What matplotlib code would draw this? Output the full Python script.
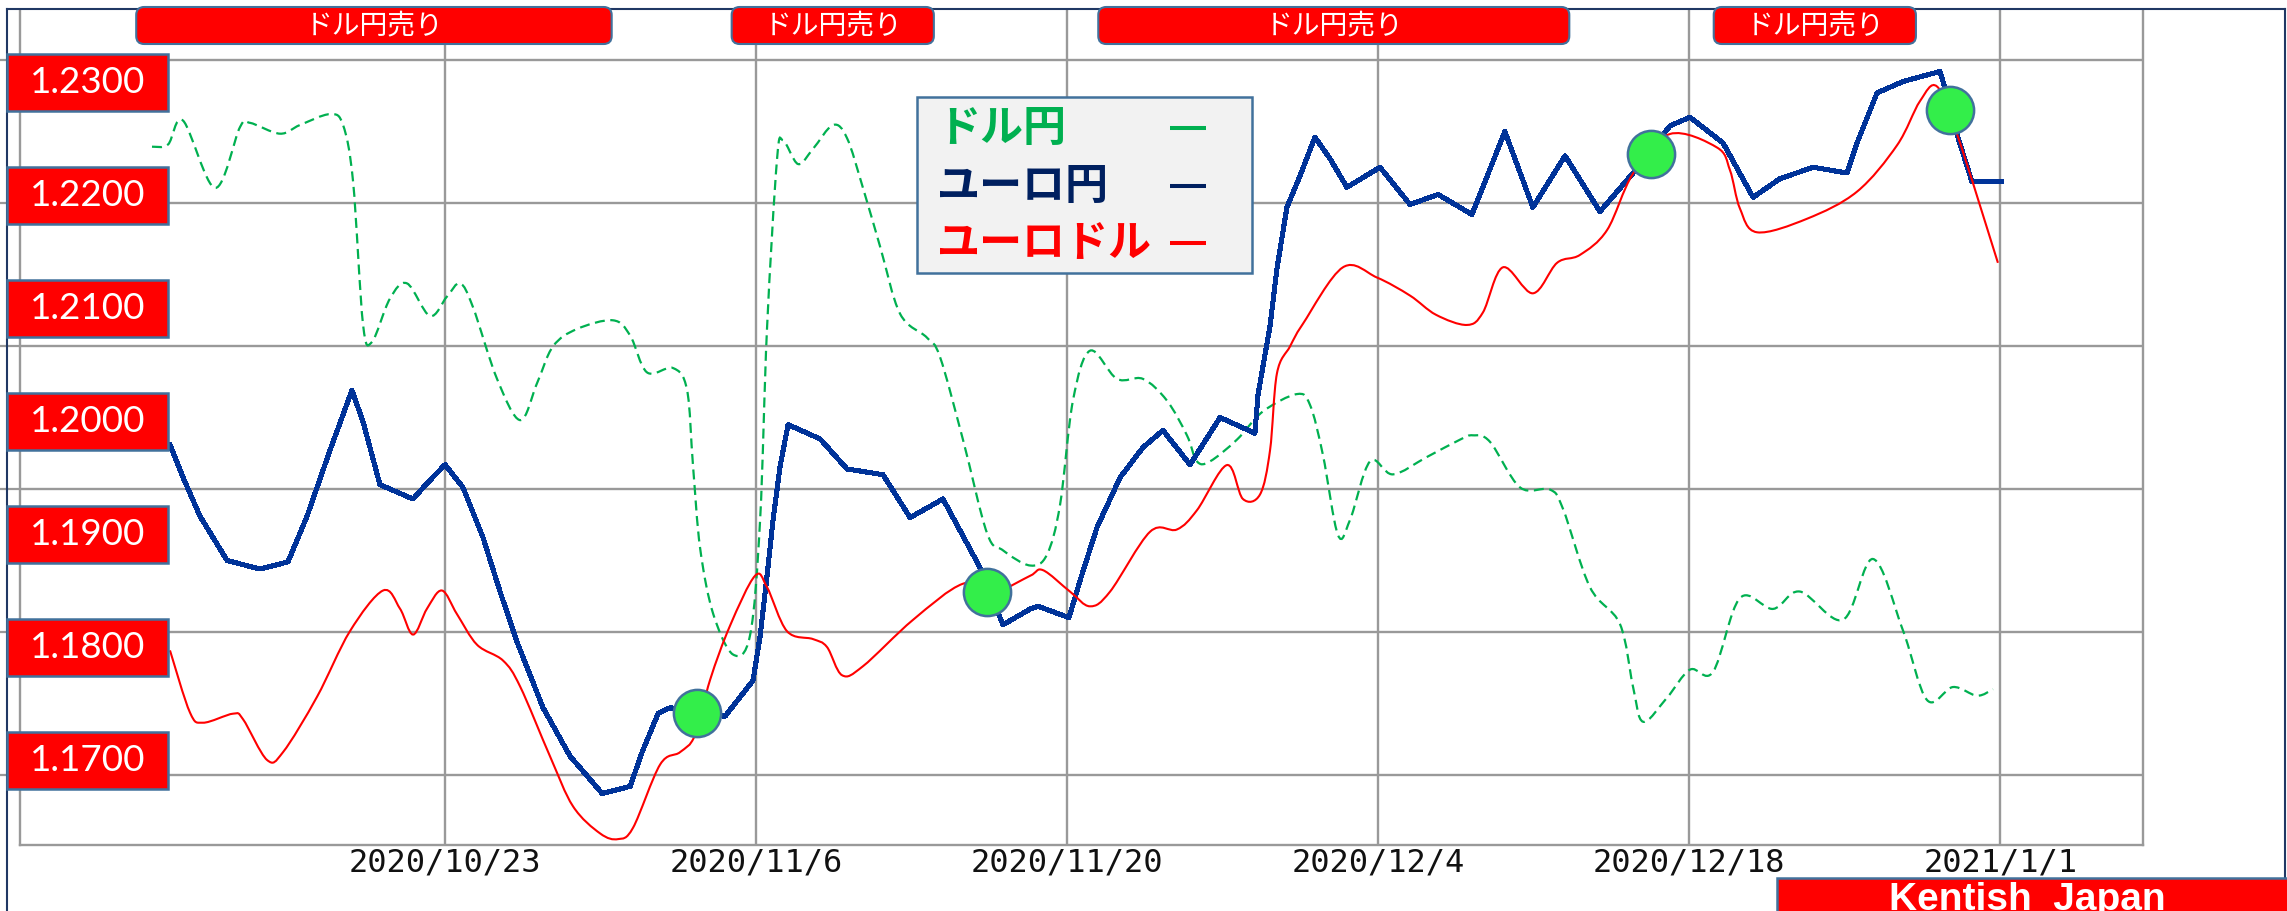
import matplotlib
matplotlib.use("Agg")
import matplotlib.pyplot as plt
import matplotlib.transforms as mtransforms
from matplotlib.patches import Rectangle, FancyBboxPatch, PathPatch
from matplotlib.lines import Line2D
from matplotlib.path import Path

W, H = 2287, 911

# x values are days counted from 2020/10/23
eurjpy_days = [-12.38, -11.79, -11.03, -9.81, -8.33, -7.07, -6.21, -5.18, -4.19, -3.69,
               -2.93, -1.44, -0.81, 0.0, 0.81, 1.71, 2.48, 3.24, 4.41, 5.63,
               6.08, 7.07, 8.33, 8.87, 9.59, 10.13, 12.60, 13.86, 14.18, 14.49,
               14.76, 15.08, 15.44, 16.88, 18.09, 19.71, 20.93, 22.41, 24.08, 25.11,
               26.33, 26.69, 28.08, 28.58, 29.34, 30.38, 31.41, 32.31, 33.53, 34.88,
               36.45, 36.59, 37.13, 37.44, 37.89, 38.48, 39.15, 39.83, 40.59, 42.08,
               43.43, 44.69, 46.22, 47.70, 48.96, 50.41, 51.98, 53.47, 55.13, 56.03,
               57.52, 58.87, 60.08, 61.57, 63.10, 63.55, 64.45, 65.62, 67.28, 67.42,
               68.09, 68.72, 70.07]
eurjpy = [124.31, 124.08, 123.81, 123.50, 123.44, 123.49, 123.81, 124.27, 124.69, 124.47,
          124.03, 123.93, 124.04, 124.17, 124.01, 123.66, 123.28, 122.93, 122.47, 122.13,
          122.05, 121.87, 121.92, 122.16, 122.43, 122.47, 122.41, 122.66, 122.97, 123.39,
          123.78, 124.16, 124.45, 124.35, 124.14, 124.10, 123.80, 123.93, 123.45, 123.05,
          123.16, 123.18, 123.10, 123.36, 123.73, 124.08, 124.29, 124.41, 124.17, 124.50,
          124.39, 124.66, 125.14, 125.54, 125.97, 126.19, 126.46, 126.31, 126.11, 126.25,
          125.99, 126.06, 125.92, 126.50, 125.97, 126.33, 125.94, 126.21, 126.54, 126.60,
          126.42, 126.04, 126.17, 126.25, 126.21, 126.42, 126.77, 126.85, 126.92, 126.85,
          126.46, 126.15, 126.15]

eurusd_days = [-12.38, -11.48, -10.89, -9.54, -9.09, -8.01, -7.29, -5.76, -4.28, -2.79,
               -2.03, -1.44, -0.81, -0.14, 0.54, 1.44, 2.61, 3.38, 4.73, 5.76,
               6.98, 7.79, 8.46, 9.68, 10.58, 11.25, 11.93, 12.83, 13.95, 14.49,
               15.39, 16.56, 17.19, 17.87, 18.81, 21.06, 23.31, 24.84, 26.33, 26.91,
               28.13, 29.03, 29.93, 31.73, 32.94, 33.84, 35.19, 35.91, 36.68, 37.13,
               37.44, 38.03, 38.61, 40.41, 41.94, 43.43, 44.60, 45.99, 46.71, 47.61,
               48.96, 50.05, 51.08, 52.30, 53.47, 55.13, 57.25, 57.83, 58.28, 59.05,
               61.30, 63.55, 65.35, 66.38, 67.15, 68.05, 69.89]
eurusd = [1.1797, 1.1742, 1.1733, 1.1741, 1.1736, 1.1700, 1.1707, 1.1756, 1.1814, 1.1850,
          1.1834, 1.1811, 1.1834, 1.1850, 1.1829, 1.1802, 1.1788, 1.1765, 1.1703, 1.1659,
          1.1635, 1.1630, 1.1640, 1.1696, 1.1707, 1.1722, 1.1771, 1.1819, 1.1863, 1.1853,
          1.1814, 1.1807, 1.1800, 1.1775, 1.1783, 1.1824, 1.1856, 1.1850, 1.1863, 1.1868,
          1.1849, 1.1836, 1.1849, 1.1902, 1.1904, 1.1921, 1.1961, 1.1931, 1.1935, 1.1974,
          1.2042, 1.2066, 1.2086, 1.2136, 1.2127, 1.2111, 1.2094, 1.2085, 1.2096, 1.2136,
          1.2113, 1.2140, 1.2147, 1.2169, 1.2219, 1.2254, 1.2242, 1.2222, 1.2188, 1.2167,
          1.2179, 1.2203, 1.2244, 1.2283, 1.2296, 1.2254, 1.2140]

usdjpy_days = [-13.19, -12.47, -11.79, -10.35, -9.23, -8.78, -7.43, -6.53, -5.18, -4.59,
               -4.14, -3.69, -3.29, -2.48, -1.71, -0.68, 0.09, 0.68, 1.26, 2.34,
               3.38, 4.14, 4.86, 5.94, 7.56, 8.33, 9.09, 10.26, 10.89, 11.16,
               11.48, 12.06, 12.96, 13.73, 14.18, 14.49, 14.94, 15.21, 15.89, 16.56,
               17.46, 18.09, 18.81, 19.58, 20.48, 21.69, 22.28, 23.31, 24.39, 25.11,
               26.33, 27.09, 27.68, 28.26, 29.03, 30.24, 31.41, 32.49, 33.39, 33.84,
               34.43, 35.64, 36.81, 38.34, 38.93, 39.51, 40.19, 40.73, 41.63, 42.66,
               44.19, 45.68, 46.26, 47.03, 48.38, 49.73, 50.32, 51.53, 52.88, 53.47,
               53.92, 54.99, 56.03, 57.07, 58.28, 59.77, 60.98, 62.92, 64.27, 65.62,
               66.70, 67.87, 68.95, 69.67]
usdjpy = [105.54, 105.55, 105.66, 105.35, 105.63, 105.65, 105.60, 105.64, 105.69, 105.64,
          105.38, 104.72, 104.64, 104.84, 104.91, 104.76, 104.85, 104.91, 104.80, 104.47,
          104.28, 104.45, 104.62, 104.70, 104.74, 104.67, 104.50, 104.52, 104.42, 104.07,
          103.69, 103.39, 103.20, 103.29, 103.82, 104.70, 105.48, 105.57, 105.46, 105.53,
          105.64, 105.58, 105.35, 105.08, 104.77, 104.66, 104.57, 104.19, 103.76, 103.68,
          103.61, 103.66, 103.89, 104.37, 104.60, 104.47, 104.47, 104.37, 104.21, 104.09,
          104.09, 104.19, 104.32, 104.40, 104.35, 104.12, 103.75, 103.82, 104.09, 104.03,
          104.11, 104.19, 104.21, 104.18, 103.97, 103.96, 103.87, 103.51, 103.34, 103.05,
          102.89, 103.00, 103.13, 103.12, 103.46, 103.41, 103.49, 103.36, 103.64, 103.31,
          102.99, 103.05, 103.01, 103.04]

# signal points (on the euro/dollar scale)
signal_days = [11.34, 24.39, 54.28, 67.73]
signal_eurusd = [1.1742, 1.1849, 1.2236, 1.2275]

# "dollar-yen selling" periods, in days
sell_start = [-13.9, 12.9, 29.4, 57.1]
sell_end = [7.5, 22.0, 50.6, 66.2]
sell_label = "ドル円売り"

date_ticks = [0, 14, 28, 42, 56, 70]
date_labels = ["2020/10/23", "2020/11/6", "2020/11/20", "2020/12/4", "2020/12/18", "2021/1/1"]
yen_ticks = [122, 123, 124, 125, 126, 127]
eurusd_ticks = [1.17, 1.18, 1.19, 1.20, 1.21, 1.22, 1.23]
eurusd_labels = ["1.1700", "1.1800", "1.1900", "1.2000", "1.2100", "1.2200", "1.2300"]

legend_names = ["ドル円", "ユーロ円", "ユーロドル"]

GREEN = "#00B050"
NAVY = "#002060"
BLUE = "#003399"
RED = "#FF0000"
EDGE = "#41719C"
GRID = "#999999"
BORDER = "#203864"
JP = ["Noto Sans CJK JP", "DejaVu Sans"]


def smooth_path(xs, ys):
    # smoothed line through the points, like a spreadsheet "smoothed line"
    n = len(xs)
    verts = [(xs[0], ys[0])]
    codes = [Path.MOVETO]
    for i in range(n - 1):
        a = max(i - 1, 0)
        b = min(i + 2, n - 1)
        c1 = (xs[i] + (xs[i + 1] - xs[a]) / 6, ys[i] + (ys[i + 1] - ys[a]) / 6)
        c2 = (xs[i + 1] - (xs[b] - xs[i]) / 6, ys[i + 1] - (ys[b] - ys[i]) / 6)
        verts += [c1, c2, (xs[i + 1], ys[i + 1])]
        codes += [Path.CURVE4] * 3
    return Path(verts, codes)


fig = plt.figure(figsize=(W / 100, H / 100), dpi=100)

# pixel coordinates measured from the top-left corner
pix = mtransforms.Affine2D().scale(1 / W, -1 / H).translate(0, 1) + fig.transFigure


def fx(x):
    return x / W


def fy(y):
    return 1 - y / H


ax = fig.add_axes([fx(20), fy(845), (2143 - 20) / W, (845 - 10) / H])
ax.set_xlim(-19.13, 76.42)
ax.set_ylim(121.51, 127.35)
ax.set_xticks(date_ticks)
ax.set_xticklabels(date_labels, fontfamily="DejaVu Sans Mono", fontsize=23)
ax.yaxis.tick_right()
ax.set_yticks(yen_ticks)
ax.set_yticklabels([str(t) for t in yen_ticks], fontfamily="DejaVu Sans Mono", fontsize=22)
ax.tick_params(axis="y", length=14.4, width=1.6, pad=13, colors="#111111")
ax.tick_params(axis="y", color=GRID)
ax.tick_params(axis="x", length=0, pad=2, colors="#111111")
ax.grid(True, color=GRID, lw=1.7)
for name, sp in ax.spines.items():
    sp.set_color(GRID)
    sp.set_linewidth(1.7)
ax.spines["top"].set_visible(False)
ax.set_zorder(1)

ax_g = ax.twinx()
ax_g.set_ylim(102.322, 106.170)
ax_b = ax.twinx()
ax_b.set_ylim(ax.get_ylim())
ax_r = ax.twinx()
ax_r.set_ylim(1.162478, 1.236372)
for z, a in enumerate([ax_g, ax_b, ax_r]):
    a.set_yticks([])
    a.axis("off")
    a.patch.set_visible(False)
    a.set_zorder(2 + z)

ax_g.add_patch(PathPatch(smooth_path(usdjpy_days, usdjpy), fill=False,
                         edgecolor=GREEN, lw=1.6, ls=(0, (4.5, 2.5))))
ax_b.plot(eurjpy_days, eurjpy, color=BLUE, lw=2.9, antialiased=False)
ax_r.add_patch(PathPatch(smooth_path(eurusd_days, eurusd), fill=False,
                         edgecolor=RED, lw=1.5))
ax_r.plot(signal_days, signal_eurusd, ls="none", marker="o", ms=34,
          mfc="#33EE4A", mec=EDGE, mew=1.8, clip_on=False)

# outer frame of the picture
fig.add_artist(Line2D([7, 2285], [9, 9], transform=pix, color=BORDER, lw=1.5, zorder=9))
fig.add_artist(Line2D([7, 7], [9, 911], transform=pix, color=BORDER, lw=1.5, zorder=9))
fig.add_artist(Line2D([2285, 2285], [9, 880], transform=pix, color=BORDER, lw=1.5, zorder=9))

# euro/dollar scale boxes on the left
box_h = 57
for v, lab in zip(eurusd_ticks, eurusd_labels):
    yc = H - ax_r.transData.transform((0, v))[1]
    fig.add_artist(Rectangle((7, yc - box_h / 2), 161, box_h, transform=pix,
                             facecolor=RED, edgecolor=EDGE, lw=1.8, zorder=10))
    fig.text(fx(88), fy(yc), lab, ha="center", va="center", color="white",
             fontsize=26.5, fontfamily="Lato", zorder=11)

# selling-period boxes across the top
for d0, d1 in zip(sell_start, sell_end):
    x0 = ax.transData.transform((d0, 0))[0]
    x1 = ax.transData.transform((d1, 0))[0]
    fig.add_artist(FancyBboxPatch((x0, 7), x1 - x0, 37, transform=pix,
                                  boxstyle="round,pad=0,rounding_size=8",
                                  facecolor=RED, edgecolor=EDGE, lw=1.5, zorder=10))
    fig.text(fx((x0 + x1) / 2), fy(25.5), sell_label, ha="center", va="center",
             color="white", fontsize=20, fontfamily=JP, zorder=11)

# legend box
fig.add_artist(Rectangle((917, 97), 335, 176, transform=pix, facecolor="#F2F2F2",
                         edgecolor=EDGE, lw=1.8, zorder=10))
for name, col, yc in zip(legend_names, [GREEN, NAVY, RED], [128, 186, 243]):
    fig.text(fx(937), fy(yc), name, ha="left", va="center", color=col,
             fontsize=31, fontweight="bold", fontfamily=JP, zorder=11)
    fig.add_artist(Line2D([1170, 1206], [yc, yc], transform=pix, color=col,
                          lw=2.9, solid_capstyle="butt", zorder=11))

# credit box
fig.add_artist(Rectangle((1777, 878), 520, 40, transform=pix, facecolor=RED,
                         edgecolor=EDGE, lw=1.8, zorder=10))
fig.text(fx(2027), fy(910), "Kentish  Japan", ha="center", va="baseline",
         color="white", fontsize=28, fontweight="bold", fontfamily="Liberation Sans", zorder=11)

fig.savefig("out.png", dpi=100)
